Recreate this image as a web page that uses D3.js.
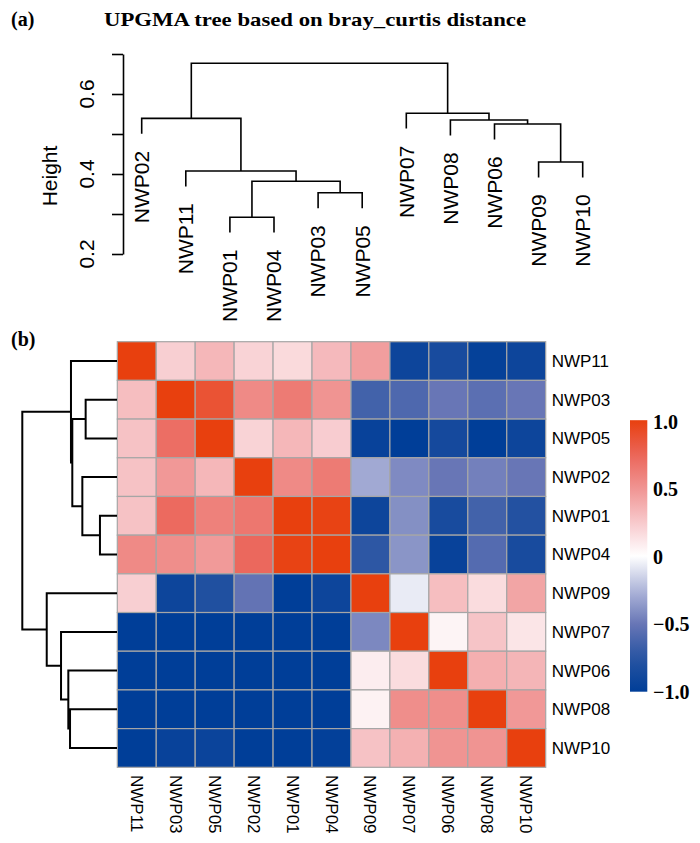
<!DOCTYPE html>
<html>
<head>
<meta charset="utf-8">
<script src="https://cdn.jsdelivr.net/npm/d3@7"></script>
<style>
  body { margin: 0; background: #fff; }
  .sans { font-family: "Liberation Sans", Arial, sans-serif; fill: #000; }
  .serif { font-family: "Liberation Serif", "Times New Roman", serif; font-weight: bold; fill: #000; }
</style>
</head>
<body>
<div id="chart"></div>
<script>
// sample order of the heatmap rows / columns
const samples = ["NWP11", "NWP03", "NWP05", "NWP02", "NWP01", "NWP04",
                 "NWP09", "NWP07", "NWP06", "NWP08", "NWP10"];

// correlation values, one row per sample (columns in the same order)
const corr = [
  [ 1.00,  0.22,  0.33,  0.20,  0.17,  0.32,  0.45, -0.92, -0.85, -0.97, -0.92],
  [ 0.30,  1.00,  0.87,  0.55,  0.63,  0.50, -0.65, -0.60, -0.50, -0.55, -0.50],
  [ 0.28,  0.70,  1.00,  0.20,  0.33,  0.23, -0.95, -1.00, -0.87, -1.00, -0.92],
  [ 0.28,  0.48,  0.33,  1.00,  0.55,  0.63, -0.30, -0.42, -0.50, -0.46, -0.50],
  [ 0.28,  0.72,  0.60,  0.65,  1.00,  0.98, -0.92, -0.40, -0.85, -0.65, -0.78],
  [ 0.55,  0.53,  0.47,  0.73,  0.98,  1.00, -0.73, -0.38, -0.95, -0.58, -0.85],
  [ 0.22, -0.92, -0.80, -0.52, -1.00, -0.92,  1.00, -0.07,  0.30,  0.16,  0.42],
  [-1.00, -1.00, -1.00, -1.00, -1.00, -1.00, -0.43,  1.00,  0.05,  0.27,  0.12],
  [-1.00, -1.00, -1.00, -1.00, -1.00, -1.00,  0.08,  0.16,  1.00,  0.37,  0.34],
  [-1.00, -1.00, -1.00, -1.00, -1.00, -1.00,  0.06,  0.53,  0.53,  1.00,  0.48],
  [-1.00, -0.95, -0.93, -1.00, -1.00, -0.98,  0.28,  0.36,  0.50,  0.50,  1.00]
];

// UPGMA tree (bray_curtis), merge heights
const upgmaTree = {h: 0.677, c: [
  {h: 0.539, c: ["NWP02",
    {h: 0.4075, c: ["NWP11",
      {h: 0.382, c: [
        {h: 0.292, c: ["NWP01", "NWP04"]},
        {h: 0.353, c: ["NWP03", "NWP05"]}
      ]}
    ]}
  ]},
  {h: 0.552, c: ["NWP07",
    {h: 0.535, c: ["NWP08",
      {h: 0.525, c: ["NWP06",
        {h: 0.430, c: ["NWP09", "NWP10"]}
      ]}
    ]}
  ]}
]};

// row clustering of the heatmap (relative heights)
const rowTree = {h: 1, c: [
  {h: 0.486, c: ["NWP11",
    {h: 0.472, c: [
      {h: 0.331, c: ["NWP03", "NWP05"]},
      {h: 0.366, c: ["NWP02",
        {h: 0.180, c: ["NWP01", "NWP04"]}
      ]}
    ]}
  ]},
  {h: 0.742, c: ["NWP09",
    {h: 0.591, c: ["NWP07",
      {h: 0.514, c: ["NWP06",
        {h: 0.496, c: ["NWP08", "NWP10"]}
      ]}
    ]}
  ]}
]};

const heightTicks = [0.2, 0.3, 0.4, 0.5, 0.6, 0.7];
const heightLabels = [0.2, 0.4, 0.6];
const legendTicks = [1, 0.5, 0, -0.5, -1];
const legendLabels = ["1.0", "0.5", "0", "\u22120.5", "\u22121.0"];

const width = 700, height = 843;

const svg = d3.select("#chart")
    .append("svg")
    .attr("width", width)
    .attr("height", height);

// colour ramp blue - white - red
const color = d3.scaleLinear()
    .domain([-1, -0.75, -0.5, -0.25, 0, 0.25, 0.5, 0.75, 1])
    .range(["#003e98", "#2854a2", "#6876b6", "#afb6da", "#ffffff",
            "#f7c8cc", "#f09492", "#eb6458", "#e8400e"])
    .clamp(true);

// ---------- (a) UPGMA tree ----------
svg.append("text")
    .attr("class", "serif")
    .attr("x", 11).attr("y", 26)
    .style("font-size", "20px")
    .text("(a)");

svg.append("text")
    .attr("class", "serif")
    .attr("x", 104).attr("y", 26)
    .attr("textLength", 422)
    .attr("lengthAdjust", "spacingAndGlyphs")
    .style("font-size", "19px")
    .text("UPGMA tree based on bray_curtis distance");

const topRoot = d3.hierarchy(upgmaTree, d => d.c);
const topLeaves = topRoot.leaves().map(d => d.data);

const xTop = d3.scalePoint()
    .domain(topLeaves)
    .range([141.7, 582.7]);

const yTop = d3.scaleLinear()
    .domain([0.2, 0.7])
    .range([254, 54]);

// leaves hang below their merge like plot.hclust (hang = 0.1)
const mergeHeights = topRoot.descendants().filter(d => d.children).map(d => d.data.h);
const hang = 0.1 * (d3.max(mergeHeights) - d3.min(mergeHeights));

topRoot.eachAfter(d => {
    if (d.children) {
        d.x = d3.mean(d.children, c => c.x);
        d.y = yTop(d.data.h);
    } else {
        d.x = xTop(d.data);
        d.y = yTop(d.parent.data.h - hang);
    }
});

svg.append("g")
    .selectAll("path")
    .data(topRoot.descendants().filter(d => d.children))
    .join("path")
    .attr("d", d => {
        const [a, b] = d.children;
        return `M${a.x},${a.y}V${d.y}H${b.x}V${b.y}`;
    })
    .attr("fill", "none")
    .attr("stroke", "#000")
    .attr("stroke-width", 1.6);

svg.append("g")
    .selectAll("text")
    .data(topRoot.leaves())
    .join("text")
    .attr("class", "sans")
    .attr("transform", d => `translate(${d.x},${d.y + 17}) rotate(-90)`)
    .attr("text-anchor", "end")
    .attr("dy", "0.35em")
    .style("font-size", "21px")
    .text(d => d.data);

// height axis
const axisG = svg.append("g")
    .attr("transform", "translate(123,0)")
    .call(d3.axisLeft(yTop).tickValues(heightTicks).tickSize(11).tickSizeOuter(0).tickFormat(""));
axisG.select(".domain").attr("stroke", "#000").attr("stroke-width", 1.6);
axisG.selectAll(".tick line").attr("stroke", "#000").attr("stroke-width", 1.6);

svg.append("g")
    .selectAll("text")
    .data(heightLabels)
    .join("text")
    .attr("class", "sans")
    .attr("transform", d => `translate(87,${yTop(d)}) rotate(-90)`)
    .attr("text-anchor", "middle")
    .attr("dy", "0.35em")
    .style("font-size", "21px")
    .text(d => d.toFixed(1));

svg.append("text")
    .attr("class", "sans")
    .attr("transform", "translate(50,176) rotate(-90)")
    .attr("text-anchor", "middle")
    .attr("dy", "0.35em")
    .style("font-size", "21px")
    .text("Height");

// ---------- (b) correlation heatmap ----------
svg.append("text")
    .attr("class", "serif")
    .attr("x", 11).attr("y", 346)
    .style("font-size", "20px")
    .text("(b)");

const xCell = d3.scaleBand().domain(samples).range([117.3, 545.7]);
const yCell = d3.scaleBand().domain(samples).range([341.7, 767.3]);

const cells = [];
samples.forEach((r, i) => {
    samples.forEach((c, j) => {
        cells.push({row: r, col: c, value: corr[i][j]});
    });
});

svg.append("g")
    .selectAll("rect")
    .data(cells)
    .join("rect")
    .attr("x", d => xCell(d.col))
    .attr("y", d => yCell(d.row))
    .attr("width", xCell.bandwidth())
    .attr("height", yCell.bandwidth())
    .attr("fill", d => color(d.value))
    .attr("stroke", "#a6a6a6")
    .attr("stroke-width", 1.2);

// row labels
svg.append("g")
    .selectAll("text")
    .data(samples)
    .join("text")
    .attr("class", "sans")
    .attr("x", 551.7)
    .attr("y", d => yCell(d) + yCell.bandwidth() / 2)
    .attr("dy", "0.35em")
    .style("font-size", "17px")
    .text(d => d);

// column labels
svg.append("g")
    .selectAll("text")
    .data(samples)
    .join("text")
    .attr("class", "sans")
    .attr("transform", d => `translate(${xCell(d) + xCell.bandwidth() / 2},775) rotate(90)`)
    .attr("dy", "0.35em")
    .style("font-size", "17px")
    .text(d => d);

// row dendrogram
const rowRoot = d3.hierarchy(rowTree, d => d.c);
const xRow = d3.scaleLinear().domain([0, 1]).range([117, 22.3]);

rowRoot.eachAfter(d => {
    if (d.children) {
        d.y = d3.mean(d.children, c => c.y);
        d.x = xRow(d.data.h);
    } else {
        d.y = yCell(d.data) + yCell.bandwidth() / 2;
        d.x = xRow(0);
    }
});

svg.append("g")
    .selectAll("path")
    .data(rowRoot.descendants().filter(d => d.children))
    .join("path")
    .attr("d", d => {
        const [a, b] = d.children;
        return `M${a.x},${a.y}H${d.x}V${b.y}H${b.x}`;
    })
    .attr("fill", "none")
    .attr("stroke", "#000")
    .attr("stroke-width", 2);

// colour legend
const yLegend = d3.scaleLinear().domain([-1, 1]).range([691.7, 421.7]);

const grad = svg.append("defs")
    .append("linearGradient")
    .attr("id", "ramp")
    .attr("x1", 0).attr("y1", 0).attr("x2", 0).attr("y2", 1);

grad.selectAll("stop")
    .data(d3.range(0, 1.0001, 0.05))
    .join("stop")
    .attr("offset", t => t)
    .attr("stop-color", t => color(1 - 2 * t));

svg.append("rect")
    .attr("x", 630)
    .attr("y", yLegend(1) - 1.5)
    .attr("width", 17.3)
    .attr("height", yLegend(-1) - yLegend(1) + 1.5)
    .attr("fill", "url(#ramp)");

svg.append("g")
    .selectAll("text")
    .data(legendTicks)
    .join("text")
    .attr("class", "serif")
    .attr("x", 653)
    .attr("y", d => yLegend(d))
    .attr("dy", "0.35em")
    .style("font-size", "20px")
    .text((d, i) => legendLabels[i]);
</script>
</body>
</html>
